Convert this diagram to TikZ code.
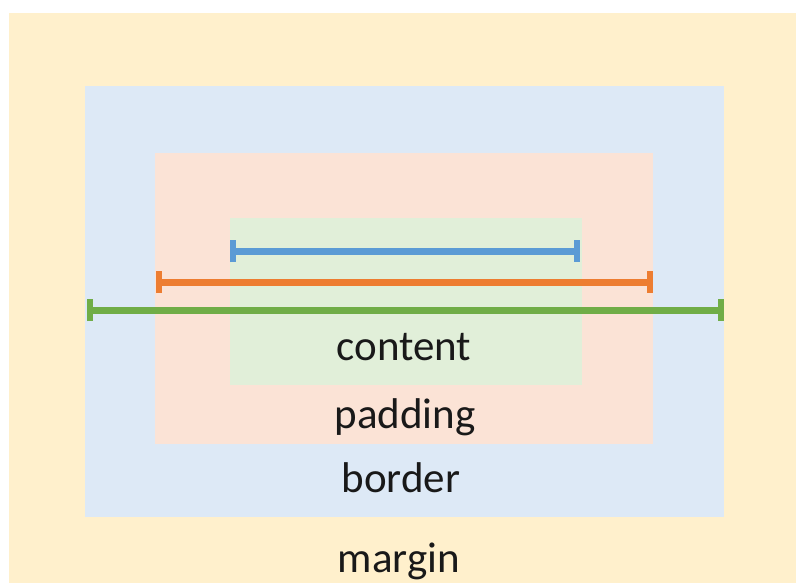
\documentclass[tikz,border=0pt]{standalone}
\usepackage{fontspec}
\setmainfont{Carlito}
\usetikzlibrary{arrows.meta,positioning}

\definecolor{marginfill}{HTML}{FFF0CC}
\definecolor{borderfill}{HTML}{DDE9F6}
\definecolor{paddingfill}{HTML}{FBE3D6}
\definecolor{contentfill}{HTML}{E1EFD9}
\definecolor{contentline}{HTML}{5B9BD5}
\definecolor{paddingline}{HTML}{ED7D31}
\definecolor{borderline}{HTML}{70AD47}

\tikzset{
  label/.style={font=\fontsize{21.5}{26}\selectfont, text=black!90, anchor=base},
  measure/.style={line width=3.5pt, {Bar[width=11pt,line width=3pt]}-{Bar[width=11pt,line width=3pt]}}
}

\begin{document}
\begin{tikzpicture}[x=0.5pt,y=-0.5pt]
\useasboundingbox (0,0) rectangle (796,583);

% the four boxes
\fill[marginfill] (9,13) rectangle (796,583);
\fill[borderfill] (85,86) rectangle (724,517);
\fill[paddingfill] (155,153) rectangle (653,444);
\fill[contentfill] (230,218) rectangle (582,385);

% end points of the widths
\coordinate (c1) at (230,251);
\coordinate (c2) at (580,251);
\coordinate (p1) at (156,282);
\coordinate (p2) at (653,282);
\coordinate (b1) at (87,310);
\coordinate (b2) at (724,310);

\draw[measure, contentline] (c1) -- (c2);
\draw[measure, paddingline] (p1) -- (p2);
\draw[measure, borderline] (b1) -- (b2);

\node[label] (content) at (404,360) {content};
\node[label] (padding) at (405,428) {padding};
\node[label] (border) at (401,492) {border};
\node[label] (margin) at (399,572) {margin};
\end{tikzpicture}
\end{document}
